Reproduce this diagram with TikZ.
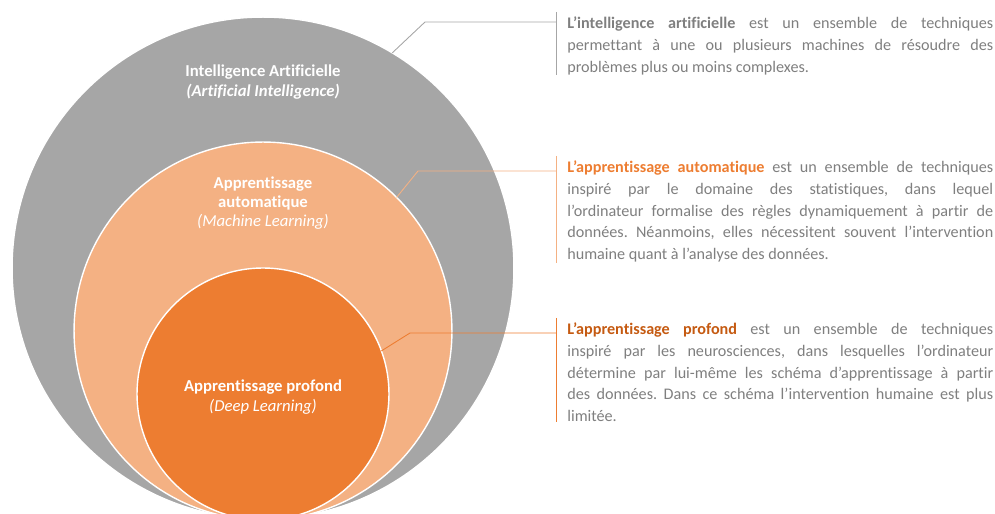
\documentclass[tikz,border=0pt]{standalone}
\usepackage{fontspec}
\setmainfont{Carlito}[Ligatures=NoCommon]
\usetikzlibrary{positioning}
\frenchspacing

\definecolor{aigray}{HTML}{A6A6A6}
\definecolor{mlorange}{HTML}{F4B183}
\definecolor{dlorange}{HTML}{ED7D31}
\definecolor{dltext}{HTML}{C55A11}
\definecolor{txtgray}{HTML}{7F7F7F}

% ligne justifiee
\newcommand{\jline}[1]{\makebox[8.52cm][s]{#1}}

\begin{document}
\begin{tikzpicture}[x=0.02cm, y=0.02cm,
    cercle/.style={circle, draw=white, line width=0.8pt, inner sep=0pt, outer sep=0pt},
    titre/.style={align=center, text=white, font=\fontsize{9.5}{11}\selectfont\bfseries},
    bloc/.style={anchor=north west, inner sep=0pt, align=left, text=txtgray, font=\fontsize{9.2}{12.5}\selectfont},
    lien/.style={line width=0.5pt}]
    \useasboundingbox (0,0) rectangle (995,514);
    \clip (0,0) rectangle (995,514);
    % cercles
    \node[cercle, fill=aigray, minimum size=10.04cm] (ai) at (263,246) {};
    \node[cercle, fill=mlorange, minimum size=7.56cm] (ml) at (263,183) {};
    \node[cercle, fill=dlorange, minimum size=5.04cm] (dl) at (263,120) {};
    % titres
    \node[titre] (tai) at (263,432) {Intelligence Artificielle\\{\itshape (Artificial Intelligence)}};
    \node[titre] (tml) at (263,311) {Apprentissage\\automatique\\{\mdseries\itshape (Machine Learning)}};
    \node[titre] (tdl) at (263,117) {Apprentissage profond\\{\mdseries\itshape (Deep Learning)}};
    % textes
    \node[bloc] (txtai) at (567,498) {\jline{\textbf{L’intelligence artificielle} est un ensemble de techniques}\\
        \jline{permettant à une ou plusieurs machines de résoudre des}\\
        problèmes plus ou moins complexes.};
    \node[bloc] (txtml) at (567,354) {\jline{\textbf{\color{dlorange}L’apprentissage automatique} est un ensemble de techniques}\\
        \jline{inspiré par le domaine des statistiques, dans lequel}\\
        \jline{l’ordinateur formalise des règles dynamiquement à partir de}\\
        \jline{données. Néanmoins, elles nécessitent souvent l’intervention}\\
        humaine quant à l’analyse des données.};
    \node[bloc] (txtdl) at (567,192) {\jline{\textbf{\color{dltext}L’apprentissage profond} est un ensemble de techniques}\\
        \jline{inspiré par les neurosciences, dans lesquelles l’ordinateur}\\
        \jline{détermine par lui-même les schéma d’apprentissage à partir}\\
        \jline{des données. Dans ce schéma l’intervention humaine est plus}\\
        limitée.};
    % barres
    \coordinate (bai) at ([xshift=-0.22cm, yshift=0.08cm]txtai.north west);
    \coordinate (bml) at ([xshift=-0.22cm, yshift=0.08cm]txtml.north west);
    \coordinate (bdl) at ([xshift=-0.22cm, yshift=0.08cm]txtdl.north west);
    \draw[lien, aigray] (bai) -- ([xshift=-0.22cm]txtai.south west);
    \draw[lien, mlorange] (bml) -- ([xshift=-0.22cm]txtml.south west);
    \draw[lien, dlorange] (bdl) -- ([xshift=-0.22cm]txtdl.south west);
    % liens
    \coordinate (kai) at (425,492);
    \coordinate (kml) at (418,343);
    \coordinate (kdl) at (410,181);
    \draw[lien, aigray] (ai.59) -- (kai) -- (kai -| bai);
    \draw[lien, mlorange] (ml.45) -- (kml) -- (kml -| bml);
    \draw[lien, dlorange] (dl.20) -- (kdl) -- (kdl -| bdl);
\end{tikzpicture}
\end{document}
